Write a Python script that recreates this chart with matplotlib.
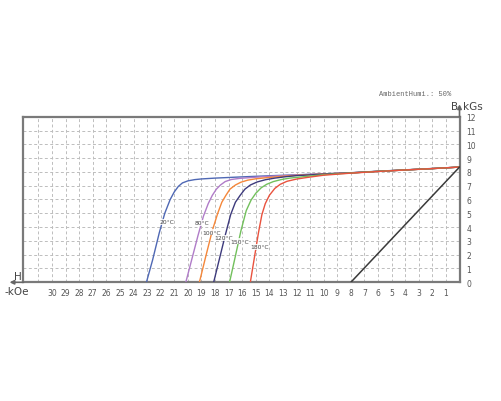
import matplotlib
matplotlib.use('Agg')
import matplotlib.pyplot as plt

# demagnetization curves, H in kOe (plotted leftwards), B in kGs
temps = ['20°C', '80°C', '100°C', '120°C', '150°C', '180°C']
colors = ['#4f68b4', '#b07cc8', '#f5873a', '#3d3a7c', '#72c05c', '#e9523e']

h_20 = [23.05, 22.6, 22.1, 21.7, 21.3, 21.0, 20.7, 20.4, 20.0, 19.5, 19.0, 18.0, 16.0, 14.0, 12.0, 10.0, 8.0, 6.0, 4.0, 2.0, 0.0]
b_20 = [0.0, 1.6, 3.6, 5.0, 6.0, 6.55, 6.95, 7.2, 7.35, 7.44, 7.49, 7.55, 7.64, 7.72, 7.79, 7.86, 7.94, 8.05, 8.15, 8.25, 8.35]
h_80 = [20.15, 19.7, 19.25, 18.85, 18.5, 18.2, 17.9, 17.6, 17.25, 16.8, 16.2, 15.5, 14.5, 13.0, 12.0, 10.0, 8.0, 6.0, 4.0, 2.0, 0.0]
b_80 = [0.0, 1.7, 3.4, 4.8, 5.7, 6.3, 6.75, 7.05, 7.3, 7.45, 7.53, 7.58, 7.65, 7.73, 7.78, 7.85, 7.93, 8.04, 8.14, 8.24, 8.35]
h_100 = [19.15, 18.7, 18.2, 17.8, 17.5, 17.2, 16.9, 16.5, 16.1, 15.6, 15.0, 14.2, 13.0, 12.0, 10.0, 8.0, 6.0, 4.0, 2.0, 0.0]
b_100 = [0.0, 1.8, 3.75, 5.0, 5.8, 6.3, 6.75, 7.05, 7.25, 7.4, 7.5, 7.58, 7.68, 7.75, 7.85, 7.93, 8.04, 8.14, 8.24, 8.35]
h_120 = [18.1, 17.7, 17.25, 16.85, 16.5, 16.15, 15.8, 15.4, 14.9, 14.3, 13.6, 12.8, 12.0, 10.0, 8.0, 6.0, 4.0, 2.0, 0.0]
b_120 = [0.0, 1.6, 3.4, 4.9, 5.8, 6.3, 6.75, 7.05, 7.27, 7.43, 7.55, 7.65, 7.73, 7.84, 7.93, 8.04, 8.14, 8.24, 8.35]
h_150 = [16.93, 16.5, 16.1, 15.7, 15.35, 15.0, 14.6, 14.2, 13.7, 13.1, 12.5, 11.8, 11.0, 10.0, 8.0, 6.0, 4.0, 2.0, 0.0]
b_150 = [0.0, 1.9, 3.7, 5.2, 5.95, 6.45, 6.85, 7.1, 7.3, 7.45, 7.55, 7.62, 7.7, 7.8, 7.92, 8.04, 8.14, 8.24, 8.35]
h_180 = [15.4, 15.1, 14.8, 14.55, 14.3, 14.0, 13.6, 13.2, 12.7, 12.0, 11.2, 10.0, 8.0, 6.0, 4.0, 2.0, 0.0]
b_180 = [0.0, 1.8, 3.6, 4.9, 5.7, 6.3, 6.8, 7.1, 7.32, 7.48, 7.6, 7.76, 7.91, 8.03, 8.14, 8.24, 8.35]

curves_h = [h_20, h_80, h_100, h_120, h_150, h_180]
curves_b = [b_20, b_80, b_100, b_120, b_150, b_180]

# where the temperature labels sit (H, B)
label_h = [21.58, 18.99, 18.22, 17.37, 16.19, 14.71]
label_b = [4.37, 4.30, 3.64, 3.21, 2.99, 2.56]

# load line
load_h = [8.0, 0.0]
load_b = [0.0, 8.35]

x_ticks = list(range(1, 32))
x_labels = [str(v) if v <= 30 else '' for v in x_ticks]
y_ticks = list(range(0, 13))

fig = plt.figure(figsize=(5.01, 4.02), dpi=100)
ax = fig.add_axes([0.0469, 0.2953, 0.8703, 0.4119])

for h, b, c in zip(curves_h, curves_b, colors):
    ax.plot(h, b, color=c, lw=1.0, solid_capstyle='round', zorder=3)
ax.plot(load_h, load_b, color='#3a3a3a', lw=1.1, zorder=3)

for t, lh, lb in zip(temps, label_h, label_b):
    ax.text(lh, lb, t, fontsize=4.3, color='#444444', ha='center', va='center', zorder=4,
            bbox=dict(facecolor='white', edgecolor='none', pad=0.2, alpha=0.85))

ax.set_xlim(32.1, 0)
ax.set_ylim(0, 12)
ax.set_xticks(x_ticks)
ax.set_xticklabels(x_labels)
ax.set_yticks(y_ticks)
ax.yaxis.tick_right()
ax.tick_params(axis='both', length=0, labelsize=5.5, labelcolor='#555555')
ax.tick_params(axis='x', pad=4)
ax.tick_params(axis='y', pad=5)
ax.grid(True, color='#bdbdbd', lw=0.7, linestyle=(0, (3, 2.5)))
ax.set_axisbelow(True)
for s in ax.spines.values():
    s.set_color('#7a7a7a')
    s.set_linewidth(1.6)

# axis arrows
arrow_kw = dict(arrowstyle='-|>', color='#666666', lw=1.2, mutation_scale=6, shrinkA=0, shrinkB=0)
ax.annotate('', xy=(-0.032, 0), xytext=(0, 0), xycoords='axes fraction',
            arrowprops=arrow_kw, annotation_clip=False)
ax.annotate('', xy=(1, 1.075), xytext=(1, 1), xycoords='axes fraction',
            arrowprops=arrow_kw, annotation_clip=False)

fig.text(18 / 501, 1 - 277 / 402, 'H', fontsize=7.5, color='#444444', ha='center', va='center')
fig.text(17 / 501, 1 - 292 / 402, '-kOe', fontsize=7.5, color='#444444', ha='center', va='center')
fig.text(455 / 501, 1 - 107 / 402, 'B', fontsize=7.5, color='#444444', ha='center', va='center')
fig.text(473 / 501, 1 - 107 / 402, 'kGs', fontsize=7.5, color='#444444', ha='center', va='center')
fig.text(415 / 501, 1 - 95 / 402, 'AmbientHumi.: 50%', fontsize=5, color='#666666',
         ha='center', va='center', family='Liberation Mono')

plt.savefig('out.png', dpi=100)
